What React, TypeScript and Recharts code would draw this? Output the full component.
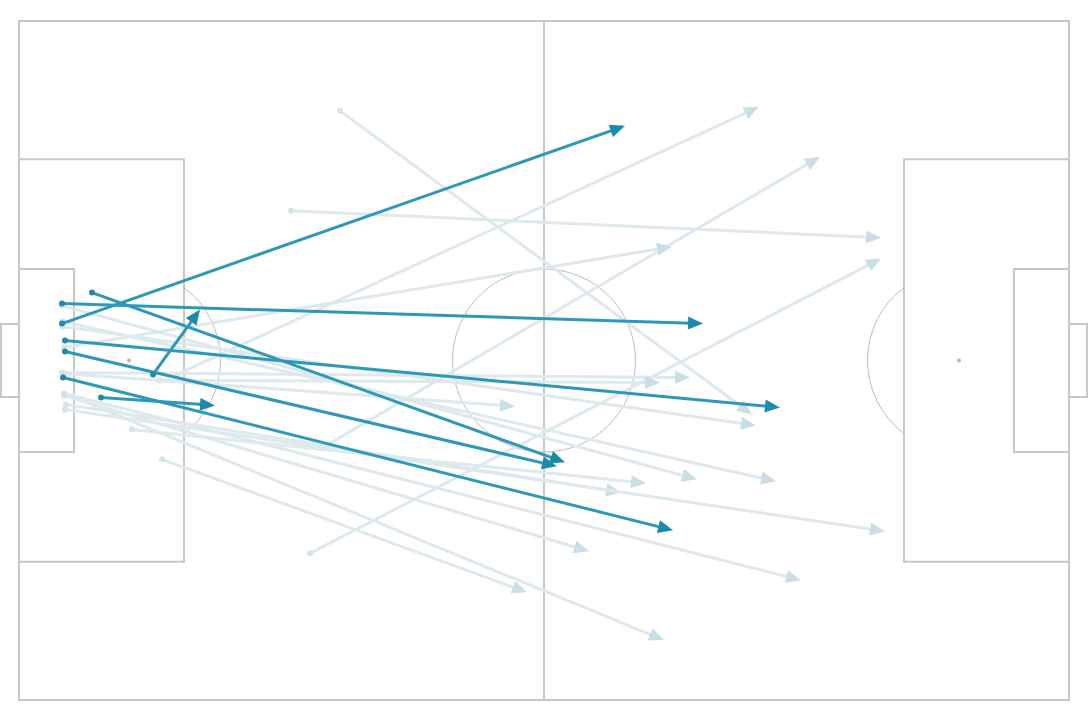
import React from "react";
import {
  ScatterChart,
  Scatter,
  XAxis,
  YAxis,
  ReferenceArea,
  ReferenceLine,
} from "recharts";

// pitch in metres, y measured from the top touchline
const PITCH_LENGTH = 105;
const PITCH_WIDTH = 68;
const GOAL_DEPTH = 1.8;

// highlighted passes (start -> end)
const keyPasses = [
  { x: 4.3, y: 30.3, endX: 60.6, endY: 10.5 },
  { x: 4.3, y: 28.3, endX: 68.4, endY: 30.3 },
  { x: 7.3, y: 27.2, endX: 54.6, endY: 44.2 },
  { x: 4.6, y: 32.0, endX: 76.1, endY: 38.7 },
  { x: 4.6, y: 33.1, endX: 53.8, endY: 44.6 },
  { x: 13.4, y: 35.4, endX: 18.1, endY: 28.9 },
  { x: 4.4, y: 35.7, endX: 65.4, endY: 51.0 },
  { x: 8.2, y: 37.7, endX: 19.6, endY: 38.5 },
];

// the rest of the passes, drawn faded
const otherPasses = [
  { x: 32.1, y: 9.0, endX: 73.3, endY: 39.4 },
  { x: 27.2, y: 19.0, endX: 86.2, endY: 21.7 },
  { x: 15.8, y: 35.4, endX: 74.0, endY: 8.6 },
  { x: 30.4, y: 42.7, endX: 80.1, endY: 13.6 },
  { x: 4.5, y: 32.7, endX: 65.3, endY: 22.6 },
  { x: 29.1, y: 53.3, endX: 86.2, endY: 23.8 },
  { x: 4.3, y: 35.2, endX: 67.1, endY: 35.7 },
  { x: 14.1, y: 36.0, endX: 64.1, endY: 36.2 },
  { x: 4.5, y: 35.3, endX: 49.6, endY: 38.6 },
  { x: 4.4, y: 30.6, endX: 73.7, endY: 40.5 },
  { x: 11.3, y: 40.9, endX: 62.7, endY: 46.3 },
  { x: 4.3, y: 28.5, endX: 67.8, endY: 45.9 },
  { x: 4.4, y: 30.1, endX: 75.7, endY: 46.1 },
  { x: 4.7, y: 38.4, endX: 60.2, endY: 47.2 },
  { x: 4.6, y: 38.9, endX: 86.6, endY: 51.1 },
  { x: 4.5, y: 37.5, endX: 57.0, endY: 53.1 },
  { x: 4.5, y: 37.3, endX: 78.2, endY: 56.0 },
  { x: 14.3, y: 43.9, endX: 50.8, endY: 57.2 },
  { x: 4.5, y: 37.3, endX: 64.5, endY: 62.0 },
];

const penaltySpots = [
  { x: 11, y: 34 },
  { x: 94, y: 34 },
];

const LINE = "#c8c8c8";
const THIN = "#bdbdbd";

const arrowShape =
  (lineColor: string, headColor: string, dotColor: string, width: number) =>
  (props: any) => {
    const { x1, y1, x2, y2 } = props;
    if ([x1, y1, x2, y2].some((v) => v == null || isNaN(v))) return <g />;
    const dx = x2 - x1;
    const dy = y2 - y1;
    const len = Math.hypot(dx, dy) || 1;
    const ux = dx / len;
    const uy = dy / len;
    const hl = 15;
    const hw = 6.5;
    const bx = x2 - ux * hl;
    const by = y2 - uy * hl;
    const pts = `${x2},${y2} ${bx - uy * hw},${by + ux * hw} ${bx + uy * hw},${by - ux * hw}`;
    return (
      <g>
        <line
          x1={x1}
          y1={y1}
          x2={bx + ux * 3}
          y2={by + uy * 3}
          stroke={lineColor}
          strokeWidth={width}
        />
        <polygon points={pts} fill={headColor} />
        <circle cx={x1} cy={y1} r={3} fill={dotColor} />
      </g>
    );
  };

// radius of the circle comes from the segment length, centre at its start
const circleShape = (props: any) => {
  const { x1, y1, x2 } = props;
  if (x1 == null || x2 == null) return <g />;
  return (
    <circle cx={x1} cy={y1} r={Math.abs(x2 - x1)} fill="none" stroke={THIN} strokeWidth={1} />
  );
};

const arcShape = (side: 1 | -1) => (props: any) => {
  const { x1, y1, x2 } = props;
  if (x1 == null || x2 == null) return <g />;
  const r = Math.abs(x2 - x1);
  const a = Math.acos(5.5 / 9.15);
  const sx = x1 + side * r * Math.cos(a);
  const sy1 = y1 - r * Math.sin(a);
  const sy2 = y1 + r * Math.sin(a);
  return (
    <path
      d={`M${sx},${sy1} A${r},${r} 0 0 ${side === 1 ? 1 : 0} ${sx},${sy2}`}
      fill="none"
      stroke={THIN}
      strokeWidth={1}
    />
  );
};

const spotShape = (props: any) => <circle cx={props.cx} cy={props.cy} r={2} fill="#b8b8b8" />;

const PassMap: React.FC = () => {
  return (
    <div style={{ position: "absolute", left: 0, top: 0, width: 1090, height: 720, background: "#fff" }}>
      <ScatterChart width={1090} height={720} margin={{ top: 21, right: 3, bottom: 20, left: 1 }}>
        <XAxis
          type="number"
          dataKey="x"
          domain={[-GOAL_DEPTH, PITCH_LENGTH + GOAL_DEPTH]}
          allowDataOverflow
          hide
        />
        <YAxis type="number" dataKey="y" domain={[0, PITCH_WIDTH]} reversed allowDataOverflow hide />

        {/* pitch */}
        <ReferenceArea x1={0} x2={PITCH_LENGTH} y1={0} y2={PITCH_WIDTH} fill="none" stroke={LINE} strokeWidth={2} fillOpacity={0} />
        <ReferenceArea x1={0} x2={16.5} y1={13.84} y2={54.16} fill="none" stroke={LINE} strokeWidth={2} fillOpacity={0} />
        <ReferenceArea x1={88.5} x2={PITCH_LENGTH} y1={13.84} y2={54.16} fill="none" stroke={LINE} strokeWidth={2} fillOpacity={0} />
        <ReferenceArea x1={0} x2={5.5} y1={24.84} y2={43.16} fill="none" stroke={LINE} strokeWidth={2} fillOpacity={0} />
        <ReferenceArea x1={99.5} x2={PITCH_LENGTH} y1={24.84} y2={43.16} fill="none" stroke={LINE} strokeWidth={2} fillOpacity={0} />
        <ReferenceArea x1={-GOAL_DEPTH} x2={0} y1={30.34} y2={37.66} fill="none" stroke={LINE} strokeWidth={2} fillOpacity={0} />
        <ReferenceArea x1={PITCH_LENGTH} x2={PITCH_LENGTH + GOAL_DEPTH} y1={30.34} y2={37.66} fill="none" stroke={LINE} strokeWidth={2} fillOpacity={0} />
        <ReferenceLine x={PITCH_LENGTH / 2} stroke={LINE} strokeWidth={2} />
        <ReferenceLine segment={[{ x: 52.5, y: 34 }, { x: 61.65, y: 34 }]} shape={circleShape} />
        <ReferenceLine segment={[{ x: 11, y: 34 }, { x: 20.15, y: 34 }]} shape={arcShape(1)} />
        <ReferenceLine segment={[{ x: 94, y: 34 }, { x: 84.85, y: 34 }]} shape={arcShape(-1)} />

        <Scatter data={penaltySpots} shape={spotShape} isAnimationActive={false} />

        {/* passes */}
        {otherPasses.map((p, i) => (
          <ReferenceLine
            key={`o${i}`}
            segment={[{ x: p.x, y: p.y }, { x: p.endX, y: p.endY }]}
            shape={arrowShape("#dde9ed", "#c9dee5", "#d4e4e9", 3)}
          />
        ))}
        {keyPasses.map((p, i) => (
          <ReferenceLine
            key={`k${i}`}
            segment={[{ x: p.x, y: p.y }, { x: p.endX, y: p.endY }]}
            shape={arrowShape("#2e98b7", "#1b8aac", "#1f8aab", 3)}
          />
        ))}
      </ScatterChart>
    </div>
  );
};

export default function App() {
  return <PassMap />;
}
